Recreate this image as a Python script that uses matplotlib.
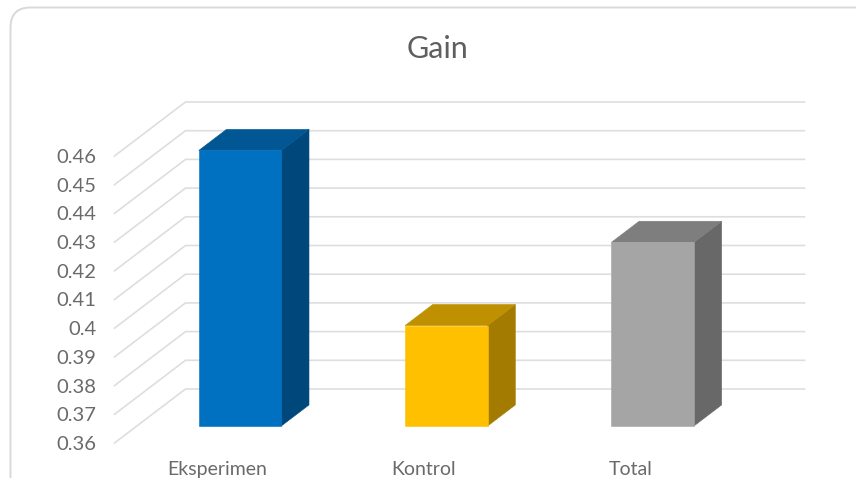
import matplotlib
matplotlib.use("Agg")
import matplotlib.pyplot as plt
from matplotlib.patches import FancyBboxPatch, Rectangle

categories = ["Eksperimen", "Kontrol", "Total"]
gain_values = [0.456, 0.395, 0.424]
y_ticks = [0.36, 0.37, 0.38, 0.39, 0.40, 0.41, 0.42, 0.43, 0.44, 0.45, 0.46]
y_tick_labels = ["0.36", "0.37", "0.38", "0.39", "0.4", "0.41", "0.42", "0.43", "0.44", "0.45", "0.46"]
front_colors = ["#0070c0", "#ffc000", "#a5a5a5"]
top_colors = ["#005794", "#bf9000", "#7e7e7e"]
side_colors = ["#00477c", "#a37b00", "#686868"]

W, H = 856, 482
plt.rcParams["font.family"] = ["Lato", "DejaVu Sans"]
fig = plt.figure(figsize=(W / 100, H / 100), dpi=100, facecolor="white")

# card behind the chart, in pixel units
bg = fig.add_axes([0, 0, 1, 1])
bg.set_xlim(0, W)
bg.set_ylim(H, 0)
bg.axis("off")
bg.add_patch(FancyBboxPatch((10.5, 7.5), 880, 560, boxstyle="round,pad=0,rounding_size=20",
                            facecolor="white", edgecolor="#d9d9d9", linewidth=1.4))

# front plane of the plot
left, right, top, bottom = 114.5, 733.5, 156, 443
ax = fig.add_axes([left / W, 1 - bottom / H, (right - left) / W, (bottom - top) / H])
ax.set_xlim(-0.5, 2.5)
ax.set_ylim(0.36, 0.46)
ax.patch.set_alpha(0)
for s in ax.spines.values():
    s.set_visible(False)

# depth shift of the box, in data units per unit of depth
DX = 71 / ((right - left) / 3)
DY = 54 / ((bottom - top) / 0.10)


def proj(x, v, d):
    return x + d * DX, v + d * DY


XMIN, XMAX = -0.5, 2.5
for v in y_ticks:
    p0 = proj(XMIN, v, 0)
    p1 = proj(XMIN, v, 1)
    p2 = proj(XMAX, v, 1)
    ax.plot([p0[0], p1[0], p2[0]], [p0[1], p1[1], p2[1]], color="#dedede", lw=1.2,
            clip_on=False, zorder=1, solid_joinstyle="miter")

BAR_W = 0.4
D0, D1 = 0.315, 0.705
base = y_ticks[0]
for i, v in enumerate(gain_values):
    xl, xr = i - BAR_W / 2, i + BAR_W / 2
    front = [proj(xl, base, D0), proj(xr, base, D0), proj(xr, v, D0), proj(xl, v, D0)]
    topf = [proj(xl, v, D0), proj(xr, v, D0), proj(xr, v, D1), proj(xl, v, D1)]
    side = [proj(xr, base, D0), proj(xr, base, D1), proj(xr, v, D1), proj(xr, v, D0)]
    for poly, c in ((side, side_colors[i]), (topf, top_colors[i]), (front, front_colors[i])):
        ax.fill(*zip(*poly), facecolor=c, edgecolor=c, linewidth=0.4, clip_on=False, zorder=3)

ax.set_yticks(y_ticks)
ax.set_yticklabels(y_tick_labels, fontsize=14.5, color="#6a6a6a")
ax.set_xticks(range(len(categories)))
ax.set_xticklabels(categories, fontsize=14, color="#6a6a6a")
ax.tick_params(axis="y", length=0, pad=13)
ax.tick_params(axis="x", length=0, pad=13)

fig.text(438 / W, 1 - 49 / H, "Gain", ha="center", va="center", fontsize=22, color="#5f5f5f")

# the reference is cropped along its bottom edge
cover = fig.add_axes([0, 0, 1, 1])
cover.set_xlim(0, W)
cover.set_ylim(H, 0)
cover.axis("off")
cover.add_patch(Rectangle((0, 478), W, 4, facecolor="white", edgecolor="none"))

fig.savefig("out.png", dpi=100, facecolor="white")
